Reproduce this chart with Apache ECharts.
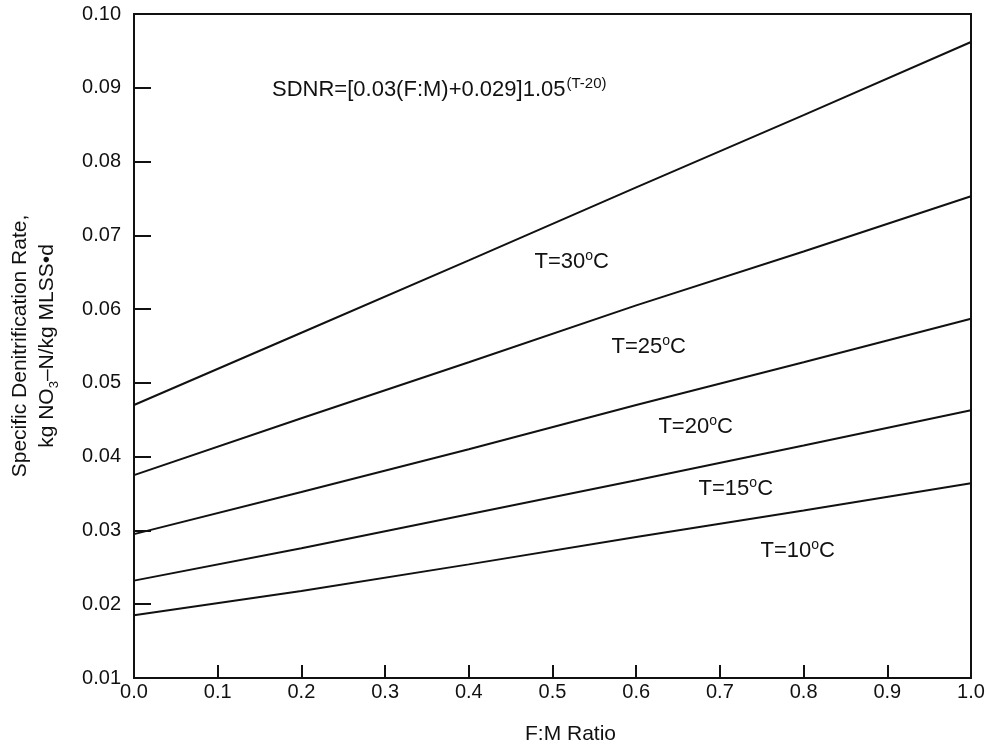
<!DOCTYPE html>
<html>
<head>
<meta charset="utf-8">
<script src="https://cdn.jsdelivr.net/npm/echarts@6/dist/echarts.min.js"></script>
<style>
  html, body { margin: 0; padding: 0; background: #fff; }
  #chart { width: 990px; height: 753px; }
</style>
</head>
<body>
<div id="chart"></div>
<script type="text/javascript">
// F:M ratio where values were read
var fmRatio = [0.0, 0.2, 0.4, 0.6, 0.8, 1.0];

// SDNR, kg NO3-N/kg MLSS.d
var t30 = [0.0470, 0.0568, 0.0666, 0.0765, 0.0863, 0.0962];
var t25 = [0.0375, 0.0452, 0.0528, 0.0605, 0.0678, 0.0753];
var t20 = [0.0295, 0.0352, 0.0410, 0.0470, 0.0528, 0.0587];
var t15 = [0.0232, 0.0276, 0.0322, 0.0368, 0.0415, 0.0463];
var t10 = [0.0185, 0.0218, 0.0254, 0.0291, 0.0327, 0.0364];

// curve labels (temperature) and where they sit
var labelTemps = ['30', '25', '20', '15', '10'];
var labelX = [0.523, 0.615, 0.671, 0.719, 0.793];
var labelY = [0.0664, 0.0549, 0.0440, 0.0356, 0.0272];

var font = '"Liberation Sans", Arial, Helvetica, sans-serif';
var ink = '#111';

function pairs(ys) {
  return fmRatio.map(function (x, i) { return [x, ys[i]]; });
}

function curve(ys) {
  return {
    type: 'line',
    data: pairs(ys),
    showSymbol: false,
    smooth: false,
    silent: true,
    lineStyle: { color: ink, width: 2 }
  };
}

var myChart = echarts.init(document.getElementById('chart'));

var option = {
  backgroundColor: '#fff',
  animation: false,
  grid: {
    left: 134, right: 19, top: 14, bottom: 75,
    outerBoundsMode: 'none',
    containLabel: false,
    show: true, borderColor: ink, borderWidth: 2
  },
  xAxis: {
    type: 'value',
    min: 0, max: 1, interval: 0.1,
    name: 'F:M Ratio',
    nameLocation: 'middle',
    nameGap: 46,
    nameTextStyle: { fontFamily: font, fontSize: 21, color: ink, padding: [0, 0, 0, 36] },
    axisLine: { show: true, lineStyle: { color: ink, width: 2 } },
    axisTick: { show: true, inside: true, length: 13, lineStyle: { color: ink, width: 2 } },
    axisLabel: {
      margin: 4, fontFamily: font, fontSize: 20, color: ink,
      formatter: function (v) { return v.toFixed(1); }
    },
    splitLine: { show: false }
  },
  yAxis: {
    type: 'value',
    min: 0.01, max: 0.10, interval: 0.01,
    name: '{t|Specific Denitrification Rate,}\n{t|kg NO}{sub|3}{t|–N/kg MLSS•d}',
    nameLocation: 'middle',
    nameRotate: 90,
    nameGap: 73,
    nameTextStyle: {
      fontFamily: font, color: ink,
      rich: {
        t: { fontFamily: font, fontSize: 21, color: ink, lineHeight: 27 },
        sub: { fontFamily: font, fontSize: 13, color: ink, lineHeight: 27, verticalAlign: 'bottom', padding: [10, 0, 0, 0] }
      }
    },
    axisLine: { show: true, lineStyle: { color: ink, width: 2 } },
    axisTick: { show: true, inside: true, length: 17, lineStyle: { color: ink, width: 2 } },
    axisLabel: {
      margin: 13, fontFamily: font, fontSize: 20, color: ink,
      formatter: function (v) { return v.toFixed(2); }
    },
    splitLine: { show: false }
  },
  graphic: [{
    type: 'text',
    left: 272,
    top: 76,
    silent: true,
    style: {
      text: '{m|SDNR=[0.03(F:M)+0.029]1.05}{s|(T-20)}',
      rich: {
        m: { fontFamily: font, fontSize: 22, fill: ink, lineHeight: 28 },
        s: { fontFamily: font, fontSize: 15, fill: ink, lineHeight: 28, verticalAlign: 'top', padding: [0, 0, 8, 1] }
      }
    }
  }],
  series: [
    curve(t30),
    curve(t25),
    curve(t20),
    curve(t15),
    curve(t10),
    {
      type: 'scatter',
      symbolSize: 0,
      silent: true,
      itemStyle: { color: ink, opacity: 1 },
      data: labelX.map(function (x, i) { return [x, labelY[i], labelTemps[i]]; }),
      label: {
        show: true,
        position: 'inside',
        color: ink,
        textBorderWidth: 0,
        formatter: function (p) { return '{m|T=' + p.data[2] + '}{o|o}{m|C}'; },
        rich: {
          m: { fontFamily: font, fontSize: 22, color: ink, lineHeight: 26, textBorderWidth: 0 },
          o: { fontFamily: font, fontSize: 14, color: ink, lineHeight: 26, verticalAlign: 'top', padding: [0, 0, 8, 0], textBorderWidth: 0 }
        }
      }
    }
  ]
};

myChart.setOption(option, true);
</script>
</body>
</html>
